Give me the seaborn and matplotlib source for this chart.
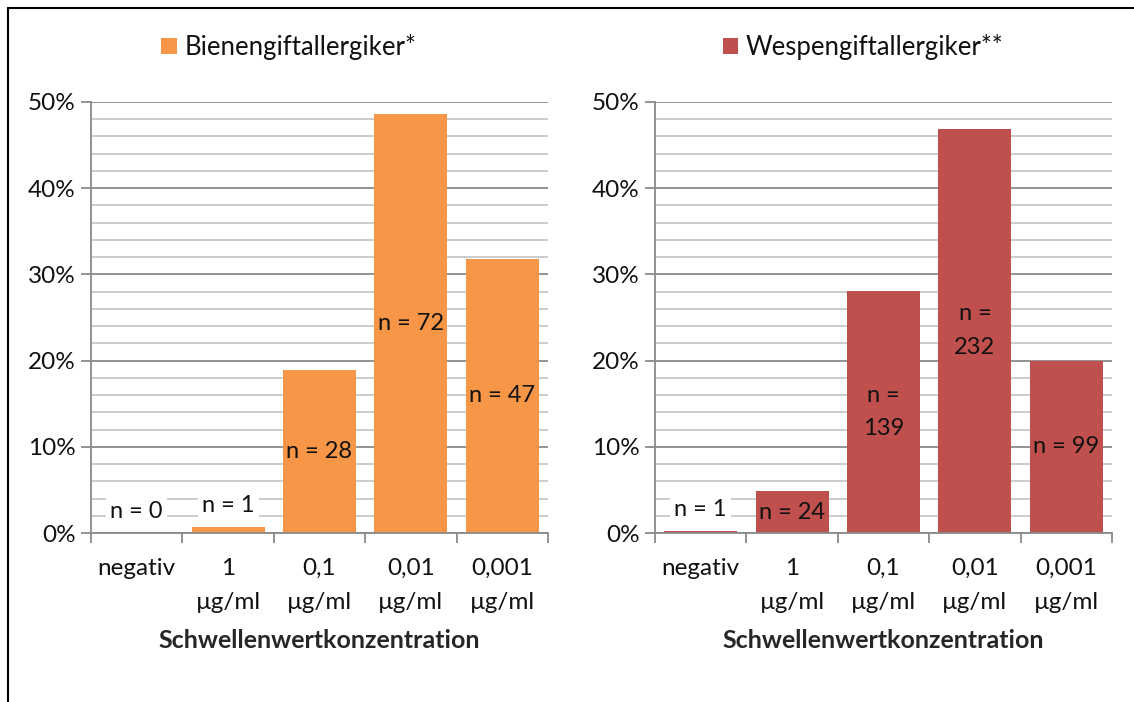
import numpy as np
import pandas as pd
import matplotlib
matplotlib.use("Agg")
import matplotlib.pyplot as plt
import seaborn as sns
from matplotlib.ticker import MultipleLocator, FixedLocator, FuncFormatter
from matplotlib.patches import Patch
from matplotlib.lines import Line2D

# Threshold concentration categories
categories = ["negativ", "1\nµg/ml", "0,1\nµg/ml", "0,01\nµg/ml", "0,001\nµg/ml"]

# Share of patients per threshold (%)
bee_pct = [0.0, 0.68, 18.9, 48.6, 31.8]
wasp_pct = [0.2, 4.85, 28.1, 46.9, 20.0]

# Patient counts shown on the bars
bee_labels = ["n = 0", "n = 1", "n = 28", "n = 72", "n = 47"]
wasp_labels = ["n = 1", "n = 24", "n =\n139", "n =\n232", "n = 99"]

bee_name = "Bienengiftallergiker*"
wasp_name = "Wespengiftallergiker**"
x_title = "Schwellenwertkonzentration"

BEE_COLOR = "#F79646"
WASP_COLOR = "#C0504D"
AXIS_GREY = "#8a8a8a"
MINOR_GREY = "#c8c8c8"
TEXT = "#111111"

TICK_FS = 17.5
BAR_FS = 17
LEGEND_FS = 18.5
XLABEL_FS = 18

sns.set_theme(style="white")
plt.rcParams["font.family"] = ["Lato", "DejaVu Sans"]
plt.rcParams["text.color"] = TEXT

W, H = 1134, 702
fig = plt.figure(figsize=(W / 100, H / 100), dpi=100)
fig.patch.set_facecolor("white")

ax_l = fig.add_axes([91 / W, 1 - 533 / H, 457 / W, 431 / H])
ax_r = fig.add_axes([655 / W, 1 - 533 / H, 457 / W, 431 / H])


def draw_panel(ax, pct, labels, color, name, legend_x):
    df = pd.DataFrame({"cat": categories, "pct": pct})
    sns.barplot(data=df, x="cat", y="pct", color=color, saturation=1,
                width=0.8, ax=ax, edgecolor="none", linewidth=0)

    ax.set_xlim(-0.5, len(categories) - 0.5)
    ax.set_ylim(0, 50)
    ax.yaxis.set_major_locator(MultipleLocator(10))
    ax.yaxis.set_minor_locator(MultipleLocator(2))
    ax.yaxis.set_major_formatter(FuncFormatter(lambda v, _: f"{v:.0f}%"))

    ax.grid(which="major", axis="y", color=AXIS_GREY, lw=1.3)
    ax.grid(which="minor", axis="y", color=MINOR_GREY, lw=1.3)
    ax.grid(which="both", axis="x", visible=False)
    ax.set_axisbelow(True)

    for side in ("top", "right"):
        ax.spines[side].set_visible(False)
    for side in ("left", "bottom"):
        ax.spines[side].set_color(AXIS_GREY)
        ax.spines[side].set_linewidth(1.3)

    ax.tick_params(axis="y", which="major", length=7, width=1.3,
                   color=AXIS_GREY, direction="out", labelsize=TICK_FS, pad=4,
                   left=True, labelcolor=TEXT)
    ax.tick_params(axis="y", which="minor", length=0)

    # category boundaries carry the tick marks
    ax.xaxis.set_minor_locator(FixedLocator(np.arange(-0.5, len(categories), 1.0)))
    ax.tick_params(axis="x", which="major", length=0, labelsize=TICK_FS, pad=18,
                   labelcolor=TEXT)
    ax.tick_params(axis="x", which="minor", length=7, width=1.3,
                   color=AXIS_GREY, direction="out", bottom=True)
    for lbl in ax.get_xticklabels():
        lbl.set_linespacing(1.75)
        lbl.set_va("top")

    ax.set_ylabel("")
    ax.set_xlabel(x_title, fontsize=XLABEL_FS, fontweight="bold")
    ax.xaxis.label.set_va("center")
    ax.xaxis.set_label_coords(0.5, -(641 - 533) / 431)

    for i, (v, lab) in enumerate(zip(pct, labels)):
        if v >= 3:
            ax.text(i, v / 2, lab, ha="center", va="center", fontsize=BAR_FS,
                    linespacing=1.75, color=TEXT)
        else:
            ax.annotate(lab, xy=(i, v), xytext=(0, 8), textcoords="offset points",
                        ha="center", va="bottom", fontsize=BAR_FS, color=TEXT,
                        bbox=dict(fc="white", ec="none", pad=3))

    fig.legend(handles=[Patch(facecolor=color, edgecolor="none", label=name)],
               loc="center", bbox_to_anchor=(legend_x, 1 - 47 / H),
               frameon=False, fontsize=LEGEND_FS, handlelength=0.6,
               handleheight=0.6, handletextpad=0.3)


draw_panel(ax_l, bee_pct, bee_labels, BEE_COLOR, bee_name, 289 / W)
draw_panel(ax_r, wasp_pct, wasp_labels, WASP_COLOR, wasp_name, 863 / W)

# outer frame of the chart area
fig.add_artist(Line2D([8 / W, 1.0], [1 - 8 / H, 1 - 8 / H],
                      transform=fig.transFigure, color="black", lw=1.5))
fig.add_artist(Line2D([8 / W, 8 / W], [1 - 8 / H, 0.0],
                      transform=fig.transFigure, color="black", lw=1.5))

fig.savefig("out.png", dpi=100, facecolor="white")
